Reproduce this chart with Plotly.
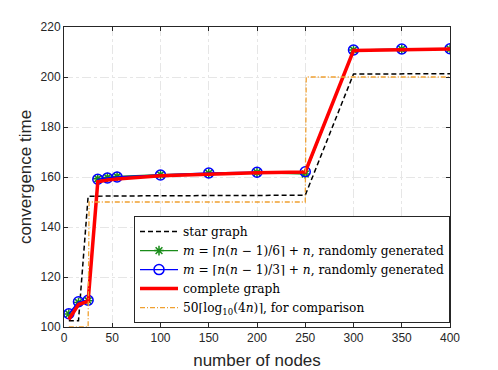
import plotly.graph_objects as go

n_nodes = [5, 15, 25, 35, 45, 55, 100, 150, 200, 250, 300, 350, 400]
star = [102.5, 102.5, 152.3, 152.4, 152.4, 152.4, 152.5, 152.5, 152.5, 152.7, 201.2, 201.2, 201.3]
rand_6 = [105.2, 109.8, 110.5, 159.3, 159.8, 160.2, 160.9, 161.5, 161.8, 161.2, 210.8, 211.1, 211.2]
rand_3 = [105.3, 110.1, 110.7, 159.1, 159.6, 160.0, 160.8, 161.6, 161.9, 162.1, 210.8, 211.2, 211.3]
complete = [103.0, 109.0, 110.3, 158.1, 158.8, 159.2, 160.5, 161.2, 161.7, 162.0, 210.6, 210.9, 211.2]
# step curve 50*ceil(log10(4n)), breakpoints
cmp_n = [5, 25, 26, 250, 251, 400]
cmp_y = [100, 100, 150, 150, 200, 200]

fig = go.Figure()
fig.add_trace(go.Scatter(x=n_nodes, y=star, mode='lines', name='star graph',
                         line=dict(color='black', width=1.5, dash='5px,3px')))
fig.add_trace(go.Scatter(x=n_nodes, y=rand_6, mode='lines+markers',
                         name='<i>m</i> = ⌈<i>n</i>(<i>n</i> − 1)/6⌉ + <i>n</i>, randomly generated',
                         line=dict(color='#1a8c1a', width=1.3),
                         marker=dict(symbol='asterisk-open', size=8,
                                     line=dict(color='#1a8c1a', width=1.5))))
fig.add_trace(go.Scatter(x=n_nodes, y=rand_3, mode='lines+markers',
                         name='<i>m</i> = ⌈<i>n</i>(<i>n</i> − 1)/3⌉ + <i>n</i>, randomly generated',
                         line=dict(color='#0000ff', width=1.3),
                         marker=dict(symbol='circle-open', size=10,
                                     line=dict(color='#0000ff', width=1.5))))
fig.add_trace(go.Scatter(x=n_nodes, y=complete, mode='lines', name='complete graph',
                         line=dict(color='#ff0000', width=3.5)))
fig.add_trace(go.Scatter(x=cmp_n, y=cmp_y, mode='lines',
                         name='50⌈log<sub>10</sub>(4<i>n</i>)⌉, for comparison',
                         line=dict(color='#f0a030', width=1.3, dash='5px,2px,1px,2px')))

axis_common = dict(showline=True, mirror='ticks', linecolor='#262626', linewidth=1,
                   ticks='inside', ticklen=4, tickcolor='#262626', automargin=False,
                   showgrid=True, gridcolor='#e6e6e6', griddash='dashdot', gridwidth=1,
                   zeroline=False, tickfont=dict(size=12, color='#262626'),
                   title_font=dict(size=17, color='#262626'))

fig.update_xaxes(range=[0, 400], tickvals=list(range(0, 401, 50)),
                 title_text='number of nodes', **axis_common)
fig.update_yaxes(range=[100, 220], tickvals=list(range(100, 221, 20)),
                 title_text='convergence time', title_standoff=4, **axis_common)

fig.update_layout(
    width=498, height=370,
    margin=dict(l=64, r=48, t=27, b=43, autoexpand=False),
    paper_bgcolor='white', plot_bgcolor='white',
    font=dict(family='Liberation Sans, Arial, sans-serif'),
    showlegend=True,
    legend=dict(x=1, xanchor='right', y=0.013, yanchor='bottom',
                bgcolor='white', bordercolor='#262626', borderwidth=1,
                font=dict(family='DejaVu Serif, serif', size=12.2, color='black'),
                itemwidth=38, tracegroupgap=0),
)

# drop the default page margin so the figure sits at the window's corner
fig.write_html("out.html", config={'displayModeBar': False},
               post_script="document.body.style.margin='0';")
